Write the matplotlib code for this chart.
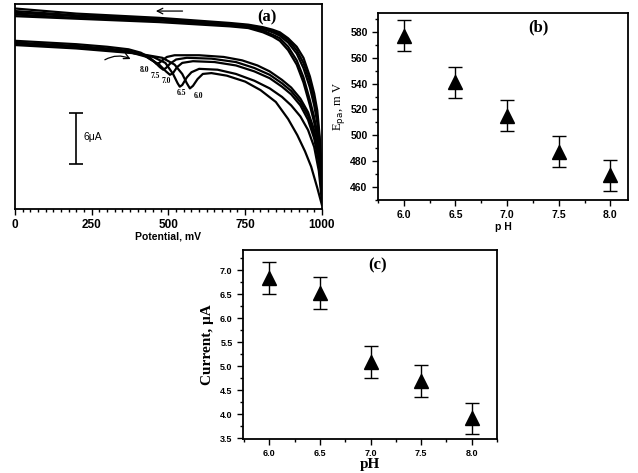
import numpy as np
import matplotlib
matplotlib.use("Agg")
import matplotlib.pyplot as plt
from matplotlib.ticker import MultipleLocator, FormatStrFormatter

# ---- panel (a): cyclic voltammograms (mV, uA) ----
fwd_pot = {
    "8.0": [0, 100, 200, 300, 370, 410, 440, 455, 461, 470, 480, 495, 520, 600, 680, 740, 790, 830, 870, 900, 930, 955, 975, 990, 1000],
    "7.5": [0, 100, 200, 300, 370, 420, 455, 472, 483, 492, 505, 525, 560, 640, 720, 780, 830, 870, 900, 930, 955, 975, 990, 1000],
    "7.0": [0, 100, 200, 300, 370, 430, 470, 492, 505, 515, 528, 545, 580, 650, 720, 780, 830, 870, 900, 930, 955, 975, 990, 1000],
    "6.5": [0, 100, 200, 300, 380, 450, 490, 515, 530, 537, 545, 560, 575, 600, 660, 720, 780, 830, 870, 900, 930, 955, 975, 990, 1000],
    "6.0": [0, 100, 200, 300, 400, 480, 520, 545, 560, 570, 580, 595, 612, 640, 690, 750, 800, 850, 890, 920, 945, 965, 985, 1000],
}
fwd_cur = {
    "8.0": [19.8, 19.6, 19.4, 19.1, 18.8, 18.4, 17.8, 17.3, 17.1, 17.2, 17.5, 17.9, 18.1, 18.1, 17.9, 17.5, 16.9, 16.2, 15.2, 14.3, 13.0, 11.4, 9.3, 6.5, 2.5],
    "7.5": [19.6, 19.4, 19.2, 18.9, 18.6, 18.1, 17.3, 16.7, 16.4, 16.6, 17.1, 17.6, 17.8, 17.7, 17.3, 16.6, 15.8, 14.8, 13.9, 12.6, 11.0, 8.8, 6.0, 2.0],
    "7.0": [19.5, 19.3, 19.1, 18.8, 18.5, 17.9, 17.0, 16.2, 15.8, 16.0, 16.7, 17.2, 17.4, 17.3, 16.9, 16.2, 15.4, 14.4, 13.5, 12.2, 10.5, 8.3, 5.5, 1.5],
    "6.5": [19.4, 19.2, 19.0, 18.7, 18.4, 17.9, 17.2, 15.9, 14.8, 14.4, 14.6, 15.5, 16.1, 16.5, 16.4, 15.9, 15.1, 14.2, 13.2, 12.2, 10.9, 9.3, 7.3, 4.5, 1.0],
    "6.0": [19.3, 19.1, 18.9, 18.6, 18.3, 17.8, 17.0, 15.9, 14.8, 14.2, 14.5, 15.3, 15.9, 16.0, 15.7, 15.0, 14.0, 12.6, 10.6, 8.7, 6.8, 5.0, 2.5, 0.5],
}
rev_pot = [0, 200, 470, 700, 760, 808, 840, 863, 890, 918, 940, 961, 975, 985, 993, 1000]
rev_cur = [
    [23.6, 23.0, 22.5, 21.9, 21.7, 21.4, 21.1, 20.8, 20.1, 19.1, 17.8, 15.6, 13.6, 11.6, 8.5, 3.5],
    [23.3, 22.8, 22.4, 21.8, 21.6, 21.3, 21.0, 20.6, 19.9, 18.7, 17.2, 15.0, 12.9, 10.8, 7.8, 3.0],
    [23.1, 22.7, 22.3, 21.7, 21.5, 21.2, 20.8, 20.4, 19.6, 18.3, 16.6, 14.3, 12.2, 10.2, 7.2, 2.5],
    [22.9, 22.5, 22.2, 21.6, 21.4, 21.0, 20.5, 20.1, 19.1, 17.5, 15.5, 12.8, 10.8, 8.9, 6.4, 2.0],
    [22.7, 22.4, 22.0, 21.5, 21.3, 20.8, 20.3, 19.8, 18.7, 17.0, 14.9, 12.2, 10.2, 8.4, 5.9, 1.5],
]
ph_label_pos = {"8.0": (423, 16.4), "7.5": (456, 15.7), "7.0": (494, 15.1),
                "6.5": (541, 13.7), "6.0": (598, 13.3)}

# ---- panels (b) and (c) ----
ph = [6.0, 6.5, 7.0, 7.5, 8.0]
epa = [577, 541, 515, 487, 469]
epa_err = [12, 12, 12, 12, 12]
ipa = [6.83, 6.52, 5.09, 4.69, 3.91]
ipa_err = [0.33, 0.33, 0.33, 0.33, 0.33]

sans = "Liberation Sans"
serif = "Liberation Serif"

fig = plt.figure(figsize=(6.38, 4.73), dpi=100)

def style(ax, fs):
    for s in ax.spines.values():
        s.set_linewidth(1.3)
    ax.tick_params(which="both", direction="out", width=1.0)
    ax.tick_params(which="major", length=4, labelsize=fs)
    ax.tick_params(which="minor", length=2.5)
    for lab in ax.get_xticklabels() + ax.get_yticklabels():
        lab.set_fontfamily(sans)
        lab.set_fontweight("bold")

# (a)
axa = fig.add_axes([0.0235, 0.558, 0.481, 0.433])
for k in fwd_pot:
    axa.plot(fwd_pot[k], fwd_cur[k], color="black", lw=1.6, solid_joinstyle="round")
for rc in rev_cur:
    axa.plot(rev_pot, rc, color="black", lw=1.6, solid_joinstyle="round")
for k, (x, y) in ph_label_pos.items():
    axa.text(x, y, k, fontsize=5.5, family=serif, fontweight="bold", ha="center", va="center")
axa.set_xlim(0, 1000)
axa.set_ylim(0, 24.1)
axa.set_yticks([])
axa.xaxis.set_major_locator(MultipleLocator(250))
axa.xaxis.set_minor_locator(MultipleLocator(25))
style(axa, 8.5)
axa.set_xlabel("Potential, mV", family=sans, fontsize=7.5, fontweight="bold", labelpad=0)
axa.text(821, 22.6, "(a)", family=serif, fontsize=12, fontweight="bold", ha="center", va="center")
# scan direction arrows
axa.annotate("", xy=(450, 23.3), xytext=(555, 23.3),
             arrowprops=dict(arrowstyle="->", lw=0.9, color="black"))
axa.annotate("", xy=(385, 17.5), xytext=(285, 17.4),
             arrowprops=dict(arrowstyle="->", lw=0.9, color="black",
                             connectionstyle="arc3,rad=-0.3"))
# 6 uA scale bar
axa.errorbar([199], [8.3], yerr=[3.0], color="black", lw=1.2, capsize=5, capthick=1.2)
axa.text(222, 8.5, "6\u03bcA", family=sans, fontsize=7.5, va="center", ha="left")

# (b)
axb = fig.add_axes([0.5925, 0.5772, 0.3918, 0.3953])
axb.errorbar(ph, epa, yerr=epa_err, fmt="^", color="black", ms=10, capsize=5,
             elinewidth=1.0, capthick=1.0)
axb.set_xlim(5.75, 8.17)
axb.set_ylim(449.7, 594.8)
axb.xaxis.set_major_locator(MultipleLocator(0.5))
axb.xaxis.set_minor_locator(MultipleLocator(0.25))
axb.yaxis.set_major_locator(MultipleLocator(20))
axb.yaxis.set_minor_locator(MultipleLocator(10))
axb.xaxis.set_major_formatter(FormatStrFormatter("%.1f"))
style(axb, 7.5)
axb.set_xlabel("p H", family=sans, fontsize=7.5, fontweight="bold", labelpad=1)
axb.set_ylabel("E$_{\\mathrm{pa}}$, m V", family=serif, fontsize=9, labelpad=2)
axb.text(7.3, 584, "(b)", family=serif, fontsize=12, fontweight="bold", ha="center", va="center")

# (c)
axc = fig.add_axes([0.3809, 0.0719, 0.3981, 0.3996])
axc.errorbar(ph, ipa, yerr=ipa_err, fmt="^", color="black", ms=10, capsize=5,
             elinewidth=1.0, capthick=1.0)
axc.set_xlim(5.74, 8.25)
axc.set_ylim(3.48, 7.42)
axc.xaxis.set_major_locator(MultipleLocator(0.5))
axc.xaxis.set_minor_locator(MultipleLocator(0.25))
axc.yaxis.set_major_locator(MultipleLocator(0.5))
axc.yaxis.set_minor_locator(MultipleLocator(0.25))
axc.xaxis.set_major_formatter(FormatStrFormatter("%.1f"))
axc.yaxis.set_major_formatter(FormatStrFormatter("%.1f"))
style(axc, 6.5)
axc.set_xlabel("pH", family=serif, fontsize=11, fontweight="bold", labelpad=0)
axc.set_ylabel("Current, \u03bcA", family=serif, fontsize=11, fontweight="bold", labelpad=4)
axc.text(7.07, 7.1, "(c)", family=serif, fontsize=12, fontweight="bold", ha="center", va="center")

fig.savefig("out.png", dpi=100)
